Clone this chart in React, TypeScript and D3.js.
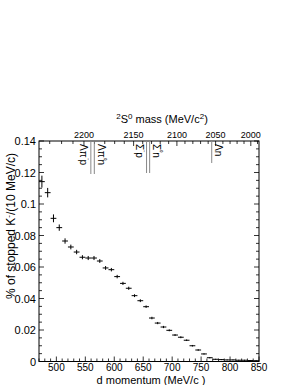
import React from "react";
import * as d3 from "d3";

// d momentum bin centres (MeV/c)
const momenta = [475, 485, 495, 505, 515, 525, 535, 545, 555, 565, 575, 585, 595, 605, 615, 625, 635, 645, 655, 665, 675, 685, 695, 705, 715, 725, 735, 745, 755, 765, 775, 785, 795, 805, 815, 825, 835, 845];
// % of stopped K- per 10 MeV/c
const values = [0.1142, 0.1072, 0.0909, 0.085, 0.0765, 0.0727, 0.0695, 0.0662, 0.0657, 0.0657, 0.0638, 0.0594, 0.0583, 0.0539, 0.0496, 0.0465, 0.0418, 0.0386, 0.0348, 0.0276, 0.0244, 0.0219, 0.0198, 0.0168, 0.0154, 0.0135, 0.01, 0.0073, 0.0048, 0.0024, 0.0014, 0.0012, 0.001, 0.001, 0.0008, 0.0008, 0.0006, 0.0005];
const errors = [0.0038, 0.003, 0.0025, 0.002, 0.0017, 0.0015, 0.0014, 0.0013, 0.0013, 0.0013, 0.0012, 0.0012, 0.0011, 0.0011, 0.001, 0.001, 0.0009, 0.0009, 0.0008, 0.0008, 0.0007, 0.0007, 0.0006, 0.0006, 0.0006, 0.0005, 0.0005, 0.0005, 0.0004, 0.0004, 0.0003, 0.0003, 0.0003, 0.0003, 0.0003, 0.0003, 0.0003, 0.0003];

const xTicks = [500, 550, 600, 650, 700, 750, 800, 850];
const yTicks = [0, 0.02, 0.04, 0.06, 0.08, 0.1, 0.12, 0.14];
const massTicks = [2200, 2150, 2100, 2050, 2000];

// threshold labels (mass in MeV/c^2)
const thresholdNames = ["Λπ⁻p", "Λπ⁰n", "Σ⁻p", "Σ⁰n", "Λn"];
const thresholdMasses = [2193.5, 2190.2, 2135.7, 2132.2, 2055.25];
const thresholdSides = ["left", "right", "left", "right", "right"];
const thresholdSup = ["⁻", "⁰", "⁻", "⁰", ""];

const mK = 493.677, mHe = 3727.379, mD = 1875.613;
function momentumFromMass(m: number) {
  const M = mK + mHe;
  const a = M * M - (m + mD) * (m + mD);
  const b = M * M - (m - mD) * (m - mD);
  return Math.sqrt(a * b) / (2 * M);
}

const L = 39, R = 259, T = 141, B = 361.5;
const FONT = "'Liberation Sans', Arial, Helvetica, sans-serif";

export default function App() {
  const x = d3.scaleLinear().domain([470, 850]).range([L, R]);
  const y = d3.scaleLinear().domain([0, 0.14]).range([B, T]);

  const xMinor = d3.range(470, 851, 10);
  const yMinor = d3.range(0, 0.1401, 0.005);
  const massMinor = d3.range(1990, 2250, 10).filter((m) => {
    const p = momentumFromMass(m);
    return p >= 470 && p <= 850;
  });

  const lineBottoms = [174, 174, 173, 173, 163];
  const labelParts = thresholdNames.map((n, i) => {
    const sup = thresholdSup[i];
    if (!sup) return [n, "", ""];
    const k = n.indexOf(sup);
    return [n.slice(0, k), sup, n.slice(k + 1)];
  });

  return (
    <svg width={298} height={385} style={{ display: "block", position: "absolute", left: 0, top: 0 }} fontFamily={FONT}>
      <rect x={0} y={0} width={298} height={385} fill="#fff" />
      {/* frame */}
      <rect x={L} y={T} width={R - L} height={B - T} fill="none" stroke="#000" strokeWidth={1} />

      {/* bottom minor ticks & top? bottom axis */}
      {xMinor.map((v) => {
        const major = v % 50 === 0;
        return (
          <line key={"xm" + v} x1={x(v)} x2={x(v)} y1={B} y2={B - (major ? 5 : 3)} stroke="#000" strokeWidth={0.8} />
        );
      })}
      {xTicks.map((v) => (
        <text key={"xt" + v} x={x(v)} y={371} fontSize={10} textAnchor="middle">{v}</text>
      ))}
      <text x={(L + R) / 2 + 2} y={384} fontSize={11} textAnchor="middle">d momentum (MeV/c )</text>

      {/* left & right axis ticks */}
      {yMinor.map((v, i) => {
        const major = i % 4 === 0;
        const len = major ? 5 : 3;
        return (
          <g key={"ym" + i}>
            <line x1={L} x2={L + len} y1={y(v)} y2={y(v)} stroke="#000" strokeWidth={0.8} />
            <line x1={R} x2={R - len} y1={y(v)} y2={y(v)} stroke="#000" strokeWidth={0.8} />
          </g>
        );
      })}
      {yTicks.map((v) => (
        <text key={"yt" + v} x={36} y={y(v) + 4} fontSize={11} textAnchor="end">{v === 0 ? "0" : String(v)}</text>
      ))}
      <text transform={`translate(15,226) rotate(-90)`} fontSize={12} textAnchor="middle">
        % of stopped K<tspan dy={-4} fontSize={8}>-</tspan><tspan dy={4}>/(10 MeV/c)</tspan>
      </text>

      {/* top mass axis */}
      {massMinor.map((m) => {
        const major = m % 50 === 0;
        const px = x(momentumFromMass(m));
        return <line key={"mm" + m} x1={px} x2={px} y1={T} y2={T + (major ? 5 : 3)} stroke="#000" strokeWidth={0.8} />;
      })}
      {massTicks.map((m) => (
        <text key={"mt" + m} x={x(momentumFromMass(m))} y={138} fontSize={9} textAnchor="middle">{m}</text>
      ))}
      <text x={162} y={123} fontSize={11} textAnchor="middle">
        <tspan dy={-4} fontSize={8}>2</tspan><tspan dy={4}>S</tspan><tspan dy={-4} fontSize={8}>0</tspan><tspan dy={4}> mass (MeV/c</tspan><tspan dy={-4} fontSize={8}>2</tspan><tspan dy={4}>)</tspan>
      </text>

      {/* thresholds */}
      {thresholdMasses.map((m, i) => {
        const px = x(momentumFromMass(m));
        const side = thresholdSides[i];
        const bx = side === "left" ? px - 10.5 : px + 3.5;
        const [a, s, c] = labelParts[i];
        return (
          <g key={"th" + i}>
            <line x1={px} x2={px} y1={T} y2={lineBottoms[i]} stroke="#888" strokeWidth={1} />
            <text transform={`translate(${bx},${T + 3}) rotate(90)`} fontSize={10}>
              {a}
              {s ? <tspan dy={-3.5} fontSize={7}>{s}</tspan> : null}
              {s ? <tspan dy={3.5}>{c}</tspan> : null}
            </text>
          </g>
        );
      })}

      {/* data */}
      {momenta.map((p, i) => (
        <g key={"d" + i} stroke="#000" strokeWidth={1}>
          <line x1={x(p - 5)} x2={x(p + 5)} y1={y(values[i])} y2={y(values[i])} />
          <line x1={x(p)} x2={x(p)} y1={y(values[i] - errors[i])} y2={y(values[i] + errors[i])} />
        </g>
      ))}
    </svg>
  );
}
